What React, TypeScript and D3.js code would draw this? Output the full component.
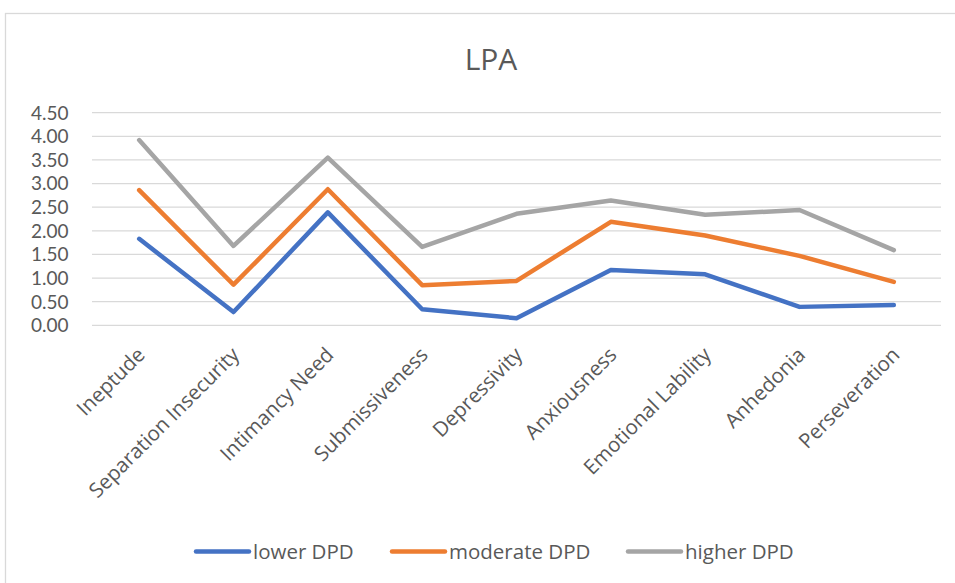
import React from "react";
import * as d3 from "d3";

const categories = [
  "Ineptude",
  "Separation Insecurity",
  "Intimancy Need",
  "Submissiveness",
  "Depressivity",
  "Anxiousness",
  "Emotional Lability",
  "Anhedonia",
  "Perseveration",
];
const lowerDPD = [1.83, 0.28, 2.39, 0.34, 0.15, 1.17, 1.08, 0.39, 0.43];
const moderateDPD = [2.86, 0.86, 2.88, 0.85, 0.94, 2.19, 1.9, 1.47, 0.92];
const higherDPD = [3.92, 1.68, 3.55, 1.66, 2.36, 2.64, 2.34, 2.44, 1.59];
const seriesNames = ["lower DPD", "moderate DPD", "higher DPD"];
const seriesColors = ["#4472C4", "#ED7D31", "#A5A5A5"];
const yTicks = [0, 0.5, 1, 1.5, 2, 2.5, 3, 3.5, 4, 4.5];

const W = 955;
const H = 583;
const FONT = "'Open Sans', 'Segoe UI', sans-serif";

export default function App() {
  const x = d3.scaleBand<string>().domain(categories).range([92, 941]);
  const y = d3.scaleLinear().domain([0, 4.5]).range([325.3, 112.7]);
  const line = d3
    .line<number>()
    .x((_, i) => (x(categories[i]) as number) + x.bandwidth() / 2)
    .y((d) => y(d));
  const series = [lowerDPD, moderateDPD, higherDPD];
  const legendX = [196, 392, 628];

  return (
    <svg
      width={W}
      height={H}
      style={{ position: "absolute", left: 0, top: 0, background: "#fff" }}
      fontFamily={FONT}
    >
      <rect x={5.5} y={13.5} width={1200} height={1200} fill="#fff" stroke="#d9d9d9" strokeWidth={1.3} />
      <text x={491} y={69.5} textAnchor="middle" fontSize={30} fill="#595959">
        LPA
      </text>
      {yTicks.map((t) => (
        <g key={t}>
          <line x1={92} x2={941} y1={y(t)} y2={y(t)} stroke="#d9d9d9" strokeWidth={1.3} />
          <text
            x={68.5}
            y={y(t)}
            dy="0.36em"
            textAnchor="end"
            fontSize={19}
            fontFamily="Lato, 'Open Sans', sans-serif"
            fill="#595959"
          >
            {t.toFixed(2)}
          </text>
        </g>
      ))}
      {categories.map((c) => {
        const cx = (x(c) as number) + x.bandwidth() / 2;
        return (
          <text
            key={c}
            transform={`translate(${cx + 2},${351}) rotate(-45)`}
            textAnchor="end"
            dy="0.35em"
            fontSize={20.5}
            fill="#595959"
          >
            {c}
          </text>
        );
      })}
      {series.map((s, i) => (
        <path
          key={i}
          d={line(s) || ""}
          fill="none"
          stroke={seriesColors[i]}
          strokeWidth={4.5}
          strokeLinejoin="round"
          strokeLinecap="round"
        />
      ))}
      {seriesNames.map((n, i) => (
        <g key={n}>
          <line
            x1={legendX[i]}
            x2={legendX[i] + 53}
            y1={551.5}
            y2={551.5}
            stroke={seriesColors[i]}
            strokeWidth={4.5}
            strokeLinecap="round"
          />
          <text x={legendX[i] + 57} y={559.3} fontSize={20.5} fill="#595959">
            {n}
          </text>
        </g>
      ))}
    </svg>
  );
}
